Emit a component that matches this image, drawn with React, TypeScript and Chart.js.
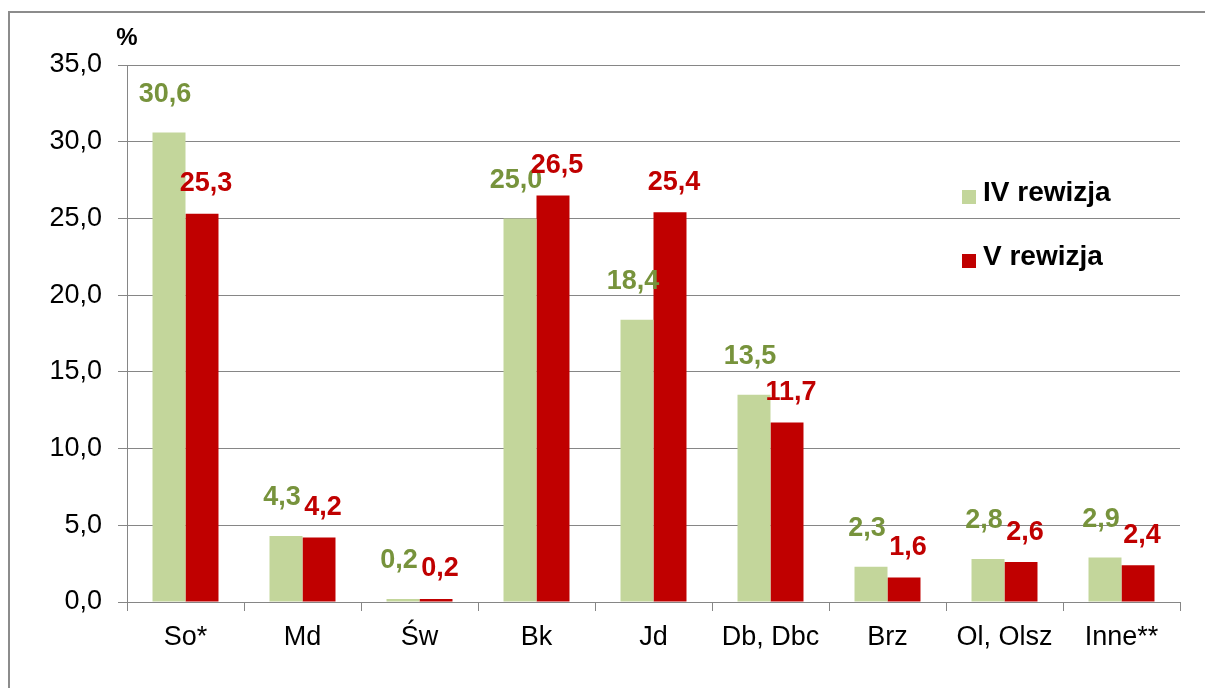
import React, { useEffect, useRef } from "react";
import { Chart, registerables } from "chart.js";

Chart.register(...registerables);

const categories = ["So*", "Md", "Św", "Bk", "Jd", "Db, Dbc", "Brz", "Ol, Olsz", "Inne**"];
const seriesIV = [30.6, 4.3, 0.2, 25.0, 18.4, 13.5, 2.3, 2.8, 2.9];
const seriesV = [25.3, 4.2, 0.2, 26.5, 25.4, 11.7, 1.6, 2.6, 2.4];
const seriesNames = ["IV rewizja", "V rewizja"];
const yTicks = [0, 5, 10, 15, 20, 25, 30, 35];

const GREEN = "#c3d69b";
const RED = "#c00000";
const GREEN_LABEL = "#77933c";
const GRID = "#868686";
const FONT = "'Liberation Sans', Arial, sans-serif";

const fmt = (v: number) => v.toFixed(1).replace(".", ",");

const decorPlugin = {
  id: "decor",
  afterDraw(chart: any) {
    const ctx = chart.ctx;
    const area = chart.chartArea;
    ctx.save();
    // outer frame
    ctx.strokeStyle = "#8c8c8c";
    ctx.lineWidth = 2;
    ctx.strokeRect(9, 12, 1300, 800);
    // % unit
    ctx.fillStyle = "#000";
    ctx.font = `bold 24px ${FONT}`;
    ctx.textAlign = "center";
    ctx.textBaseline = "middle";
    ctx.fillText("%", area.left, 38);
    // data labels
    const labelColors = [GREEN_LABEL, RED];
    const dx = [-4, 4];
    const dy = [38, 30];
    ctx.font = `bold 27px ${FONT}`;
    ctx.textBaseline = "middle";
    chart.data.datasets.forEach((ds: any, di: number) => {
      const meta = chart.getDatasetMeta(di);
      ctx.fillStyle = labelColors[di];
      meta.data.forEach((bar: any, i: number) => {
        ctx.fillText(fmt(ds.data[i]), bar.x + dx[di], bar.y - dy[di]);
      });
    });
    // legend
    const items = [
      { name: seriesNames[0], color: GREEN, y: area.top + 128 },
      { name: seriesNames[1], color: RED, y: area.top + 192 },
    ];
    ctx.font = `bold 28px ${FONT}`;
    ctx.textAlign = "left";
    ctx.textBaseline = "middle";
    items.forEach((it) => {
      const x = area.right - 218;
      ctx.fillStyle = it.color;
      ctx.fillRect(x, it.y - 3, 14, 14);
      ctx.fillStyle = "#000";
      ctx.fillText(it.name, x + 21, it.y);
    });
    ctx.restore();
  },
};

export default function App() {
  const ref = useRef<HTMLCanvasElement | null>(null);
  useEffect(() => {
    if (!ref.current) return;
    const chart = new Chart(ref.current, {
      type: "bar",
      data: {
        labels: categories,
        datasets: [
          { label: seriesNames[0], data: seriesIV, backgroundColor: GREEN, categoryPercentage: 0.564, barPercentage: 1 },
          { label: seriesNames[1], data: seriesV, backgroundColor: RED, categoryPercentage: 0.564, barPercentage: 1 },
        ],
      },
      options: {
        animation: false,
        responsive: false,
        layout: { padding: { top: 65, right: 25, left: 0, bottom: 0 } },
        plugins: { legend: { display: false }, tooltip: { enabled: false }, title: { display: false } },
        scales: {
          x: {
            grid: { drawOnChartArea: false, drawTicks: true, tickLength: 9, color: GRID, offset: true },
            border: { color: GRID, width: 1 },
            ticks: { color: "#000", font: { family: FONT, size: 27 }, padding: 10 },
            afterFit: (s: any) => { s.height = 86; },
          },
          y: {
            min: 0,
            max: 35,
            afterBuildTicks: (s: any) => { s.ticks = yTicks.map((v) => ({ value: v })); },
            grid: { color: GRID, tickLength: 9, lineWidth: 1 },
            border: { color: GRID, width: 1 },
            ticks: { color: "#000", font: { family: FONT, size: 27 }, padding: 16, callback: (v: any) => fmt(Number(v)) },
            afterFit: (s: any) => { s.width = 127; s.paddingTop = 0; s.paddingBottom = 0; },
          },
        },
      },
      plugins: [decorPlugin],
    });
    return () => chart.destroy();
  }, []);
  return (
    <div style={{ position: "absolute", left: 0, top: 0, width: 1205, height: 688, background: "#fff" }}>
      <canvas ref={ref} width={1205} height={688} style={{ width: 1205, height: 688, display: "block" }} />
    </div>
  );
}
